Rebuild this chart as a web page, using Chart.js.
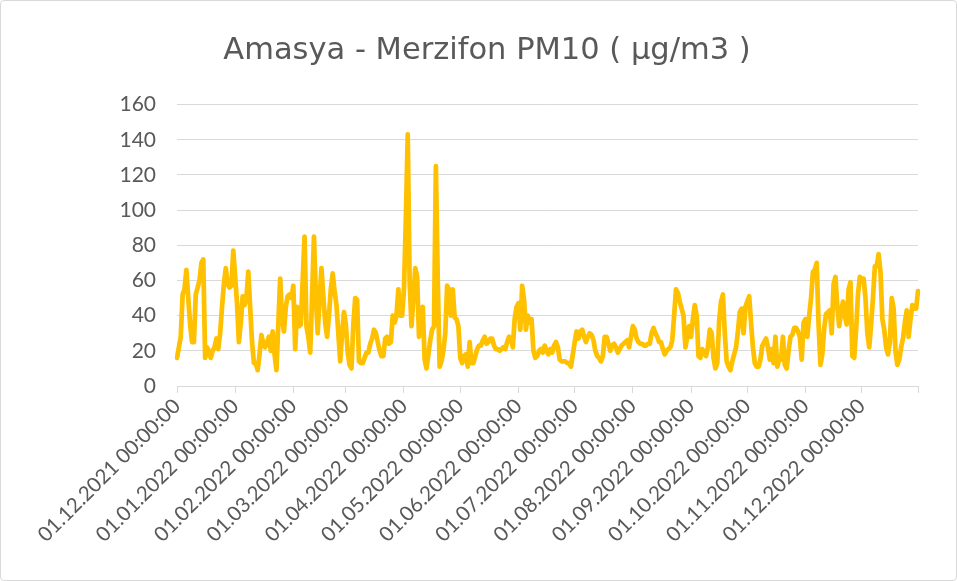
<!DOCTYPE html>
<html>
<head>
<meta charset="utf-8">
<script src="https://cdn.jsdelivr.net/npm/chart.js@4.4.1/dist/chart.umd.min.js"></script>
<style>
  html, body { margin: 0; padding: 0; background: #fff; }
  #wrap {
    position: relative;
    width: 957px; height: 581px;
    box-sizing: border-box;
    border: 1px solid #d9d9d9;
    border-radius: 4px;
  }
  #pmChart { display: block; }
</style>
</head>
<body>
<div id="wrap"><canvas id="pmChart" width="955" height="579"></canvas></div>
<script>
// daily PM10 values, one array per month
const dec2021 = [16,22,28,52,55,66,50,35,25,25,52,56,60,70,72,16,22,20,16,20,22,27,21,30,45,58,67,58,56,57,77];
const jan2022 = [62,47,25,36,51,46,50,65,45,25,13,13,9,18,29,24,22,25,28,20,31,18,9,35,61,38,31,45,51,52,50];
const feb2022 = [57,21,45,34,35,60,85,34,28,19,50,85,51,30,50,67,51,36,28,40,55,64,54,46,30,14,30,42];
const mar2022 = [35,19,12,10,35,50,49,14,13,13,16,19,19,24,27,32,30,25,20,17,17,27,28,24,25,40,36,40,55,40,40];
const apr2022 = [55,95,143,60,34,50,67,62,28,30,45,15,10,18,26,32,34,125,60,11,14,20,30,57,55,40,55,39,38,34];
const may2022 = [16,13,17,18,11,25,13,13,17,21,23,23,26,28,24,25,27,27,23,21,21,20,21,22,21,25,28,27,22,38,45];
const jun2022 = [47,32,57,49,32,40,36,38,20,16,17,20,21,19,23,20,18,21,19,23,25,22,15,14,14,14,13,13,11,18];
const jul2022 = [25,31,27,31,32,28,25,28,30,29,26,20,17,16,14,17,28,28,24,20,23,24,22,19,21,23,24,25,26,22,28];
const aug2022 = [34,32,27,25,24,24,23,23,24,24,30,33,30,28,25,25,21,18,20,21,22,26,40,55,53,48,44,40,22,28,34];
const sep2022 = [28,38,46,40,17,16,21,19,17,22,32,30,16,10,13,37,48,52,30,14,11,9,14,18,22,31,42,44,30,45];
const oct2022 = [48,51,36,22,13,11,11,15,23,25,27,22,15,21,13,28,11,15,15,28,12,10,20,28,29,33,33,31,28,15,36];
const nov2022 = [38,28,40,50,65,66,70,35,12,18,33,41,42,43,30,58,62,45,34,42,48,40,35,55,59,17,16,32,52,62];
const dec2022 = [61,61,50,30,22,35,50,68,68,75,65,38,32,22,18,25,50,44,20,12,15,22,27,36,43,28,38,46,44,44,54];

const monthNames = ['12.2021','01.2022','02.2022','03.2022','04.2022','05.2022','06.2022',
                    '07.2022','08.2022','09.2022','10.2022','11.2022','12.2022'];
const monthValues = [dec2021, jan2022, feb2022, mar2022, apr2022, may2022, jun2022,
                     jul2022, aug2022, sep2022, oct2022, nov2022, dec2022];
const yTicks = [0, 20, 40, 60, 80, 100, 120, 140, 160];

// build the category labels, dd.mm.yyyy 00:00:00
const labels = [];
const values = [];
monthNames.forEach(function(m, i) {
    monthValues[i].forEach(function(v, d) {
        const dd = String(d + 1).padStart(2, '0');
        labels.push(dd + '.' + m + ' 00:00:00');
        values.push(v);
    });
});

const textColor = '#595959';
const gridColor = '#d9d9d9';
const titleFont = 'DejaVu Sans';
const axisFont = 'Lato';
const lastIndex = labels.length - 1;

function isMonthStart(i) {
    return labels[i] && labels[i].startsWith('01.');
}

new Chart(document.getElementById('pmChart'), {
    type: 'line',
    data: {
        labels: labels,
        datasets: [{
            label: 'PM10',
            data: values,
            borderColor: '#FFC000',
            backgroundColor: '#FFC000',
            borderWidth: 4.75,
            borderJoinStyle: 'round',
            borderCapStyle: 'round',
            pointRadius: 0,
            tension: 0
        }]
    },
    options: {
        responsive: false,
        animation: false,
        devicePixelRatio: 1,
        layout: { padding: { left: 55, right: 38, top: 0, bottom: 4 } },
        plugins: {
            legend: { display: false },
            tooltip: { enabled: false },
            title: {
                display: true,
                text: 'Amasya - Merzifon PM10 ( µg/m3 )',
                color: textColor,
                font: { family: titleFont, size: 30.5, weight: 'normal' },
                padding: { top: 32, bottom: 35 }
            }
        },
        scales: {
            x: {
                offset: false,
                grid: {
                    drawOnChartArea: false,
                    drawTicks: true,
                    tickLength: 7,
                    color: function(ctx) {
                        const i = ctx.index;
                        return (isMonthStart(i) || i === lastIndex) ? gridColor : 'rgba(0,0,0,0)';
                    }
                },
                border: { display: true, color: gridColor, width: 1 },
                ticks: {
                    autoSkip: false,
                    maxRotation: 45,
                    minRotation: 45,
                    padding: 1,
                    color: textColor,
                    font: { family: axisFont, size: 20.5 },
                    callback: function(value) {
                        const l = this.getLabelForValue(value);
                        return l.startsWith('01.') ? l : '';
                    }
                },
                afterFit: function(scale) { scale.height = 190; }
            },
            y: {
                min: 0,
                max: 160,
                afterBuildTicks: function(scale) {
                    scale.ticks = yTicks.map(function(v) { return { value: v }; });
                },
                grid: { color: gridColor, drawTicks: false },
                border: { display: false },
                ticks: {
                    padding: 21,
                    color: textColor,
                    font: { family: axisFont, size: 21 }
                },
                afterFit: function(scale) { scale.width = 121; }
            }
        }
    }
});
</script>
</body>
</html>
